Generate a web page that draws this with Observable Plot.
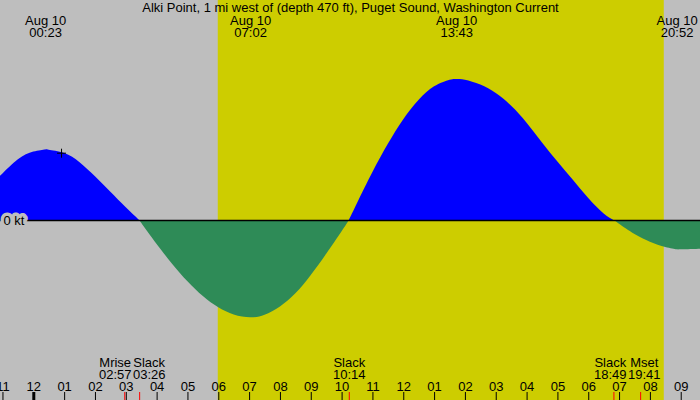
<!DOCTYPE html>
<html>
<head>
<meta charset="utf-8">
<script src="https://cdn.jsdelivr.net/npm/d3@7"></script>
<script src="https://cdn.jsdelivr.net/npm/@observablehq/plot@0.6"></script>
<style>
  html, body { margin: 0; padding: 0; background: #bebebe; }
</style>
</head>
<body>
<div id="chart"></div>
<script>
// ---------- data ----------
const title = "Alki Point, 1 mi west of (depth 470 ft), Puget Sound, Washington Current";

// current speed (knots; flood +, ebb −)
const speedTimes = [
  "2023-08-09T22:50", "2023-08-09T23:00", "2023-08-09T23:30",
  "2023-08-10T00:00", "2023-08-10T00:23", "2023-08-10T00:30", "2023-08-10T01:00",
  "2023-08-10T01:30", "2023-08-10T02:00", "2023-08-10T02:30", "2023-08-10T03:00",
  "2023-08-10T03:26", "2023-08-10T03:30", "2023-08-10T04:00", "2023-08-10T04:30",
  "2023-08-10T05:00", "2023-08-10T05:30", "2023-08-10T06:00", "2023-08-10T06:30",
  "2023-08-10T07:02", "2023-08-10T07:30", "2023-08-10T08:00", "2023-08-10T08:30",
  "2023-08-10T09:00", "2023-08-10T09:30", "2023-08-10T10:00", "2023-08-10T10:14",
  "2023-08-10T10:30", "2023-08-10T11:00", "2023-08-10T11:30", "2023-08-10T12:00",
  "2023-08-10T12:30", "2023-08-10T13:00", "2023-08-10T13:30", "2023-08-10T13:43",
  "2023-08-10T14:00", "2023-08-10T14:30", "2023-08-10T15:00", "2023-08-10T15:30",
  "2023-08-10T16:00", "2023-08-10T16:30", "2023-08-10T17:00", "2023-08-10T17:30",
  "2023-08-10T18:00", "2023-08-10T18:30", "2023-08-10T18:49", "2023-08-10T19:00",
  "2023-08-10T19:30", "2023-08-10T20:00", "2023-08-10T20:30", "2023-08-10T20:52",
  "2023-08-10T21:00", "2023-08-10T21:30", "2023-08-10T21:45"
];
const speedKt = [
  0.30, 0.33, 0.43,
  0.485, 0.50, 0.498, 0.475,
  0.41, 0.31, 0.20, 0.09,
  0.0, -0.02, -0.17, -0.31,
  -0.435, -0.54, -0.62, -0.67,
  -0.69, -0.672, -0.613, -0.52,
  -0.39, -0.24, -0.08, 0.0,
  0.12, 0.34, 0.54, 0.715,
  0.853, 0.948, 0.995, 1.00,
  0.995, 0.96, 0.90, 0.81,
  0.69, 0.55, 0.415, 0.285,
  0.155, 0.045, 0.0, -0.027,
  -0.10, -0.154, -0.192, -0.208,
  -0.208, -0.206, -0.203
];

// maximum flood / ebb times (labels at top)
const peakTimes = ["2023-08-10T00:23", "2023-08-10T07:02", "2023-08-10T13:43", "2023-08-10T20:52"];

// slack / moon events (labels at bottom)
const eventNames = ["Mrise", "Slack", "Slack", "Slack", "Mset"];
const eventTimes = ["2023-08-10T02:57", "2023-08-10T03:26", "2023-08-10T10:14", "2023-08-10T18:49", "2023-08-10T19:41"];

// sunrise / sunset
const daylight = ["2023-08-10T05:59", "2023-08-10T20:27"];

// small "+" marker on the curve
const markerTime = "2023-08-10T00:54";
const markerKt = 0.477;

const zeroLabel = "0 kt";
const xDomain = ["2023-08-09T22:55:12", "2023-08-10T21:37:30"];
const yDomain = [-1.277, 1.56];

// ---------- build ----------
const parse = s => new Date(s + "Z");
const series = speedTimes.map((t, i) => ({time: parse(t), kt: speedKt[i]}));
const peaks = peakTimes.map(parse);
const events = eventTimes.map((t, i) => ({name: eventNames[i], time: parse(t)}));
const x0 = parse(xDomain[0]), x1 = parse(xDomain[1]);
const hours = d3.utcHour.range(d3.utcHour.ceil(x0), x1);

const W = 700, H = 400;
const msPerPx = (x1 - x0) / W;
const halfLabel = 17 * msPerPx;       // half a label width (plus a hair of gap), in time
// push apart labels whose events are too close
const centers = events.map(e => +e.time);
for (let i = 0; i < events.length - 1; i++) {
  const a = +events[i].time, b = +events[i + 1].time;
  if (b - a < 2 * halfLabel) {
    const mid = (a + b) / 2;
    centers[i] = mid - halfLabel;
    centers[i + 1] = mid + halfLabel;
  }
}
const bottomLabels = events.map((e, i) => ({...e, center: new Date(centers[i])}));

const fmtTime = d3.utcFormat("%H:%M");
const fmtDay = d3.utcFormat("%b %d");
const fmtHour = d3.utcFormat("%I");

const font = "'Liberation Sans', Arial, Helvetica, sans-serif";

const plot = Plot.plot({
  width: W,
  height: H,
  margin: 0,
  style: {background: "#bebebe", fontFamily: font, fontSize: "13px", color: "black", overflow: "hidden"},
  x: {type: "utc", domain: [x0, x1], axis: null},
  y: {domain: yDomain, axis: null},
  marks: [
    Plot.rect([daylight.map(parse)], {x1: d => d[0], x2: d => d[1], fill: "#cdcd00"}),
    Plot.areaY(series, {x: "time", y: "kt", fill: "#0000ff", curve: "natural"}),
    Plot.areaY(series, {x: "time", y: "kt", fill: "#2e8b57", curve: "natural"}),
    Plot.ruleY([0], {stroke: "black", strokeWidth: 1.5}),
    Plot.text([0], {y: d => d, text: () => zeroLabel, frameAnchor: "left", textAnchor: "start", dx: 3,
      fill: "black", stroke: "#bebebe", strokeWidth: 7, fontSize: 13, fontFamily: font}),
    Plot.dot([{time: parse(markerTime), kt: markerKt}], {x: "time", y: "kt", symbol: "plus", r: 3, stroke: "black", strokeWidth: 1}),
    Plot.text([title], {frameAnchor: "top", lineAnchor: "bottom", dy: 11, fontSize: 13, fontFamily: font, fill: "black"}),
    Plot.text(peaks, {x: d => d, text: d => fmtDay(d) + "\n" + fmtTime(d), frameAnchor: "top", lineAnchor: "bottom",
      dy: 36, lineHeight: 12 / 13, fontSize: 13, fontFamily: font, fill: "black"}),
    Plot.text(bottomLabels, {x: "center", text: d => d.name + "\n" + fmtTime(d.time), frameAnchor: "bottom", lineAnchor: "bottom",
      dy: -22, lineHeight: 11.7 / 13, fontSize: 13, fontFamily: font, fill: "black"}),
    Plot.text(hours, {x: d => d, text: d => fmtHour(d), frameAnchor: "bottom", lineAnchor: "bottom", dy: -10,
      fontSize: 13, fontFamily: font, fill: "black"}),
    Plot.ruleX(hours, {x: d => d, insetTop: 392, stroke: "black", strokeWidth: d => d.getUTCHours() === 0 ? 3 : 1}),
    Plot.ruleX(events, {x: "time", insetTop: 392, stroke: "red", strokeWidth: 1})
  ]
});

// clip the flood (blue) area above zero and the ebb (green) area below zero
const ns = "http://www.w3.org/2000/svg";
const yZero = plot.scale("y").apply(0);
const defs = document.createElementNS(ns, "defs");
[["clip-flood", 0, yZero], ["clip-ebb", yZero, H]].forEach(([id, a, b]) => {
  const cp = document.createElementNS(ns, "clipPath");
  cp.setAttribute("id", id);
  const r = document.createElementNS(ns, "rect");
  r.setAttribute("x", 0); r.setAttribute("y", a);
  r.setAttribute("width", W); r.setAttribute("height", b - a);
  cp.appendChild(r);
  defs.appendChild(cp);
});
plot.insertBefore(defs, plot.firstChild);
const areas = plot.querySelectorAll('g[aria-label="area"]');
areas[0].setAttribute("clip-path", "url(#clip-flood)");
areas[1].setAttribute("clip-path", "url(#clip-ebb)");

document.getElementById("chart").appendChild(plot);
</script>
</body>
</html>
